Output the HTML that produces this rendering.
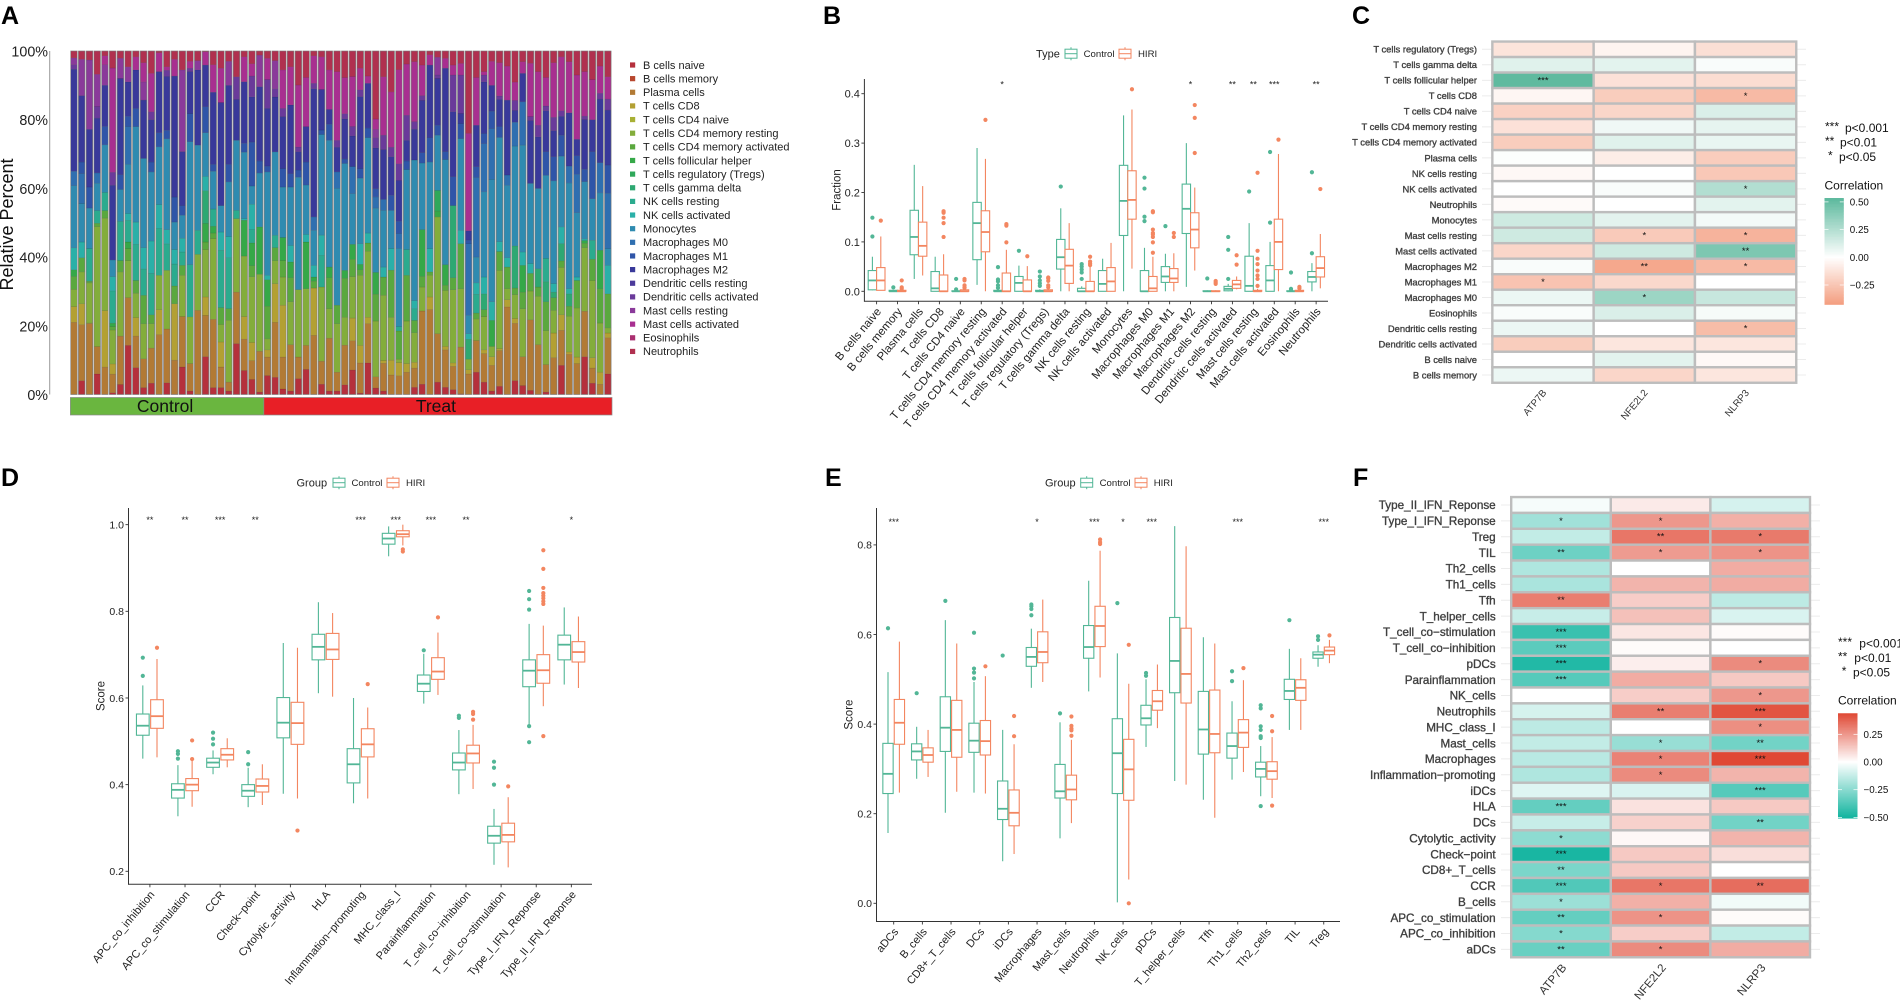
<!DOCTYPE html>
<html lang="en">
<head>
<meta charset="utf-8">
<title>Immune infiltration figure</title>
<style>
html,body{margin:0;padding:0;background:#fff;width:1900px;height:1001px;overflow:hidden}
svg{display:block;font-family:"Liberation Sans",sans-serif}
</style>
</head>
<body>
<svg id="figure" xmlns="http://www.w3.org/2000/svg" width="1900" height="1001" viewBox="0 0 1900 1001">
<text x="1" y="24" font-size="25" font-weight="bold">A</text>
<text x="823" y="24" font-size="25" font-weight="bold">B</text>
<text x="1352" y="24" font-size="25" font-weight="bold">C</text>
<text x="1" y="486" font-size="25" font-weight="bold">D</text>
<text x="825" y="486" font-size="25" font-weight="bold">E</text>
<text x="1353" y="486" font-size="25" font-weight="bold">F</text>
</svg>
<script>
/* ---------- Panel A data ---------- */
const aCategories = ["B cells naive","B cells memory","Plasma cells","T cells CD8","T cells CD4 naive","T cells CD4 memory resting","T cells CD4 memory activated","T cells follicular helper","T cells regulatory (Tregs)","T cells gamma delta","NK cells resting","NK cells activated","Monocytes","Macrophages M0","Macrophages M1","Macrophages M2","Dendritic cells resting","Dendritic cells activated","Mast cells resting","Mast cells activated","Eosinophils","Neutrophils"];
const aColors = ["#b5303c","#b8472f","#b27a35","#b3a033","#a8b034","#83ad3b","#5aa83e","#35a848","#2fa85a","#2ea872","#2bab8e","#2ab0a8","#2f8bb0","#2f6fb0","#2f55a8","#39399a","#4b3a9a","#6a3a9a","#8a3a9a","#a82f90","#aa2f70","#b0304f"];
const aGroups = ["Control","Treat"];
const aGroupSizes = [25,45];
const aTicks = ["0%","20%","40%","60%","80%","100%"];
const aFractions = [
[0,0,21,4.6,0,5,3.8,1.9,0,0,0,6.4,18.1,4.2,0,29.7,0,1.3,2,0,0,2],
[4,0,16.3,6.1,0,9.3,4.1,0,0,0,0,4.6,11.2,8.7,3.4,19.3,0,0,10.6,0,0,2.4],
[0,0,20.6,0.2,0,11.7,0.5,0,0,0,9.5,0,11.8,0,6.1,16.8,0,0,20.2,0,0,2.6],
[6,0,8,0,0,35,1,0,0,0,3.7,0,8,3,0,16,0,3.4,9.4,0,0,6.8],
[0,0,8,16.5,0,27,2.2,0,0,0,5.3,0,13.9,0,5.4,12,0,0,6,2.6,0,1.4],
[0.5,0,5.5,3,0,10,1,1,0,0,9.5,4.2,4.9,0,0,22,0,3.8,0,30.7,0,5],
[2.9,0,14.1,0,0,18.7,3.3,0,0,0,11.4,0,9.3,0,4.3,28,0,0,5.9,0,0,2.1],
[14.3,0,13.9,0,0,10.8,3.5,1.9,0,0,6.3,2,14.3,11,3,10,0,0,4.4,0,0,4.6],
[7.8,0,9.2,5.4,0,7.1,3.7,0,0,0,10.5,6.5,27.8,0,5.3,11.2,0,0,0,3.8,0,1.7],
[2,0,8.4,0,0,10.2,8.3,0,0,0,7.7,6.2,26,0,0,17,0,0,5.3,5.6,0,3.4],
[3.3,0,10.2,0,0,7.1,2.6,0,0,0,12,9.5,20.1,0,2.9,12.3,0,2.3,0,11.2,0,6.5],
[0,0,17.4,7.3,0,10,0,0,0,0,13.6,7,16.8,0,4.1,17.8,0,0,0,5.5,0,0.5],
[3.4,0,15.7,0,0,17.1,0,0,0,0,7.7,4.1,26.5,0,2.5,15.7,0,1.8,0,1,0,4.6],
[0,0,10,16.4,0,0,5.2,0,0,0,6.4,4.2,8,0,7.3,35.2,0,0,0,4.9,0,2.4],
[8,0,14.7,0,0,12,2.9,0,0,0,3.9,4,6.7,0,2.8,15.7,0,0,23.8,0,0,5.5],
[1,0,8,0,0,13.6,0,0,0,0,15.2,0,35.8,0,8.2,12.2,0,1,0,2,0,3],
[0,0,24.5,0,0,16.3,0,0,0,0,7,0,24.8,0,0,21.9,0,0,2.7,0,0,2.8],
[11,0,12,5.4,0,13.8,2.2,5.4,0,9.5,0,4.2,12.7,0,7.6,12.1,0,0,0,3.9,0,0.2],
[2,0,19.9,0,0,23.5,1.6,2,0,0,5,0,11,0,2,21,0,0,0,8,0,4],
[2,0,6,7.3,0,5.1,4.9,0,0,0,16.7,5.3,7.7,0,0,30,0,0,0,10,0,5],
[1,0,2.6,0,0,18,3.4,0,0,0,14.8,6.2,15.9,0,5.1,23,0,0,7,0,0,3],
[14.8,0,15,0,0,21.4,0,0,0,0,2.4,0,20.4,0,0,11.9,0,6.6,0,0,0,7.5],
[7,0,9.2,6.6,0,17.7,0,10.5,0,0,0,0.5,19.4,0,2.6,18,0,0,0,7.3,0,1.7],
[4.6,0,5.8,5.6,0,20.2,3.4,7,0,0,4.1,7.8,5.6,0,13.5,13.9,0,6.4,0,3.8,0,3.9],
[0.7,0,11.9,0,0,22.4,0,13.8,0,0,0,0,15.7,0,3.5,21.6,0,0,9.2,0,0,1.2],
[5.5,0,5.4,2.1,0,3.2,9.5,7.7,0,0,0,1.3,30.1,0,1.7,16.8,0,8.4,0,6.2,0,2.1],
[5,0,16,11.3,0,6.7,3.8,0,0,0,3.6,0,24.3,0,0,16,0,2.4,8.2,0,0,2.8],
[1.6,0,9.3,15.1,0,8.2,4.8,6.7,0,0,0,0,14.7,0,5.4,15.1,0,2.4,0,11.2,0,5.5],
[1,0,13.5,0,0,12.5,7,4.6,0,0,0,4.8,17,0,3.9,20,0,0,0,11.1,0,4.6],
[4.6,0,6.3,0,0,19.6,0,0,0,0,0,0,32.7,0,2.1,5.3,0,1.4,0,18,0,9.9],
[7.3,0,7,0,0,16.5,0,13.6,0,0,0,2.2,14.4,0,6.7,10.3,0,0,0,14.3,0,7.7],
[0,0,17.2,13.8,0,0,2,1.2,0,0,0,3.4,10.2,3.9,0,37.3,0,1.6,0,8,0,1.4],
[3,0,6.7,0,0,21.6,0,0,0,0,9.2,5.9,29.3,0,1.3,11.8,0,0,0,9.5,0,1.7],
[1,0,15.4,0,0,8.6,9,3.1,0,0,0,0,36.9,0,4.7,4.3,0,0,0,11.5,0,5.5],
[1,0,5.5,0,0,14.1,5.4,0,0,0,0,0,34,4.8,0,7.2,0,2,0,20,0,6],
[2.8,0,11.5,0,0,8.1,11.3,2.3,0,0,0,0,31,0,1.3,11.6,0,1.5,0,10.5,0,7.7],
[7.2,0,8.6,6.7,0,12.2,5.1,4.4,0,0,0,0,14.9,8,0,9,0,2.8,0,14.7,0,7.5],
[0.4,0,8.8,5.1,0,20.4,1.6,1.6,0,0,0,6,19.1,0,2.8,20.9,0,2,0,6.3,0,5],
[9.2,0,11.4,1.9,0,19.2,2.4,0,0,0,0,2.9,27.8,0,2.8,13,0,0,0,2.1,0,7.3],
[1.9,0,3.3,0,0,16.4,7.9,6.4,0,0,0,0,18.9,3.3,2.4,12,0,3,2.5,3,0,20],
[1,0,8.1,0.8,0,19,5.3,0,0,0,0,2.9,16.5,3.2,0,14.5,0,4.2,0,17,0,7.5],
[0,0,5.7,4.3,0,12.5,13.7,0,0,0,0,6.3,11.1,0,4.4,11.2,0,2.8,0,16.1,0,11.9],
[0,0,5.5,3.9,0,1,8.3,0,0,0,1.3,0,23,4.4,3.6,12,0,4.9,0,27.7,0,5.5],
[0,0,6.5,2.5,0,12.4,13.3,0,0,0,7.5,0,23.3,0,2.5,6,0,7.3,0,14.9,0,3.8],
[2.1,0,5.6,1.7,0,8.6,3.6,0,0,0,3.4,2.4,41,0,0,9,0,2.2,0,17.5,0,3.1],
[3,0,21.3,0,0,7,3.1,13.6,0,0,0,0,19.4,0,3,15.2,0,1.4,0,8.9,0,4.1],
[0,0,24.7,3.7,0,6.3,1,0,0,0,0,6.8,25.2,0,7.1,21.1,0,0,0,3,0,1.1],
[3.6,0,14.1,0,0,34,0,1.7,6,0,0,0,16.1,0,2.9,13.6,0,1,5.2,0,0,1.8],
[2.1,0,10.9,1,0,16.3,1.5,6,0,0,0,0,30.6,0,2.3,24.3,0,0,0,2.9,0,2.1],
[1.4,0,6.8,1,0,21.3,3.5,0,0,21,0,0,0,0,8.4,18.9,0,10.7,0,2.9,0,4.1],
[0.2,0,13.6,0,0,17,13.1,0,0,0,0,3.9,26.7,0,4.4,2.9,0,11.2,0,3.4,0,3.6],
[0,0,6,1.2,0,3.1,0,0,0,5.8,0,1.6,5.4,20.9,1,2.7,0,0,0,28.4,0,24],
[6.5,0,9.2,0,0,6.3,1.7,0,0,0,5.5,3.3,7.5,23.2,3.1,12.1,0,0,0,13.9,0,7.7],
[3.6,0,8.3,1.1,0,9.7,2,0,0,4.6,0,4.9,24.8,14,3,15,0,2,0,1,0,6],
[1,0,7.5,2.5,0,3,0,7.6,0,0,0,5.4,35.6,14.8,5.1,7.5,0,0,0,7,0,3],
[2.4,0,10.4,0.6,0,22.8,5.5,0,0,0,0,2.9,30.4,0,3.2,7.9,0,1,0,9.7,0,3.4],
[0,0,25.5,2.1,0,3.2,6.3,0,0,0,0,2.7,21.1,3,0,21.8,0,0,0,9.9,0,4.4],
[4,0,16.6,1.4,0,6.9,1.9,0,0,12.2,0,0,28.9,6.9,0,3.4,0,2.9,0,5.3,0,9],
[2.6,0,8.4,0,0,14,4.8,7.8,0,0,0,3.9,31.1,12.6,0,8.3,0,0,0,3.4,0,3.1],
[1.2,0,20.8,0,0,8.5,5.2,0,0,0,0,2.9,23.6,0,0,18.5,0,1.2,0,15.7,0,3.6],
[0,0,14.5,0,0,14.1,2.7,0,0,5.3,0,0,23.4,0,0,15,0,3.4,0,15.6,0,6],
[0.7,0,8,0,0,9.9,8.4,0,0,5.8,6.8,0,24.2,0,6.9,11.9,0,1.4,0,8.3,0,7.7],
[0,0,10.7,7.2,0,6.6,3.7,0,0,1.6,0,2.5,29.9,0,7,7.6,0,3.9,0,15.9,0,3.4],
[8.5,0,10.2,4.5,0,13.8,1.9,0,0,5,0,4.9,20.6,0,6.1,5.5,0,1.6,0,15.7,0,1.7],
[0,0,11.7,0.7,0,10.4,2.9,0,0,3.6,0,1.5,30.8,4.9,0,15.5,0,0,0,14.9,0,3.1],
[0,0,9,1.9,0,14.3,8,0,0,0,0,1,18.7,11.2,5.4,4.8,0,0,0,18.7,0,7],
[11,0,13.3,0,0,18.5,1.3,0.8,0,0,0,0.5,16.7,0,3.6,14.5,0,1,0,13,0,6],
[3.3,0,4.4,3,0,22.5,6.2,0,0,0,5.5,0,12.1,0,13.7,9.3,0,0,0,11.7,0,8.3],
[0,0,3,3.5,0,14.3,10,11.2,0,0,0,0,16.7,8.8,0,18.5,0,1.7,0,7.9,0,4.4],
[6,0,10.5,1.4,0,1.5,9.9,0,0,0,0,8.3,4.9,16.1,8.2,16,0,3.2,0,6.5,0,7.5]
];

/* ---------- Panel B data: each stat row = [lower whisker, Q1, median, Q3, upper whisker] ---------- */
const bCategories = aCategories;
const bTicks = [0,0.1,0.2,0.3,0.4];
const bControlStats = [[.002,.003,.022,.042,.07],[0,0,0,.002,.002],[.025,.074,.11,.164,.256],[0,0,.006,.04,.07],[0,0,0,.001,.002],[.013,.064,.138,.18,.29],[0,0,0,.002,.005],[0,0,.017,.03,.052],[0,0,0,.002,.004],[0,.045,.069,.105,.168],[0,0,0,.006,.01],[0,0,.015,.042,.066],[0,.113,.183,.255,.356],[0,0,0,.042,.088],[0,.018,.03,.05,.076],[.009,.117,.167,.217,.3],[0,0,0,.001,.002],[0,.001,.005,.01,.015],[0,0,.011,.071,.138],[0,0,.022,.052,.1],[0,0,0,.001,.002],[0,.019,.029,.04,.057]];
const bHiriStats = [[.002,.002,.022,.048,.111],[0,0,0,.002,.002],[.032,.071,.092,.14,.213],[0,0,0,.033,.075],[0,0,0,.003,.005],[0,.08,.12,.163,.268],[0,0,0,.037,.084],[0,0,0,.023,.051],[0,0,0,.003,.005],[0,.016,.052,.085,.138],[0,0,0,.02,.05],[0,0,.02,.048,.098],[.046,.146,.185,.244,.368],[0,0,.006,.03,.07],[0,.018,.026,.046,.077],[.042,.088,.125,.159,.21],[0,0,0,.001,.002],[.004,.006,.014,.022,.03],[0,0,0,.002,.005],[0,.044,.1,.146,.278],[0,0,0,.002,.004],[.006,.029,.047,.07,.116]];
const bControlOutliers = [[.111,.149],[.008],[],[],[.004,.025],[],[.007,.012,.02,.024,.049],[.082],[.011,.016,.022,.03,.04],[.212],[.025,.038,.044,.05,.055],[],[],[.142,.151,.208,.23],[.132],[],[.026],[.025,.084,.11],[.202],[.139,.282],[.003,.005,.038],[.077,.241]];
const bHiriOutliers = [[.143],[.022,.008,.005],[],[.11,.138,.149,.162,.159],[.025,.022,.012,.008,.007],[.347],[.099,.133,.136],[.071],[.008,.012,.021,.026,.028],[],[.053,.056,.06,.07],[],[.409],[.078,.099,.11,.115,.118,.125,.162,.16],[.11,.118],[.28,.351,.377],[.015,.018,.021],[.054,.073],[.011,.025,.032,.042,.055,.066,.082,.24],[.307],[.006,.009],[.207]];
const bStars = ["","","","","","","*","","","","","","","","","*","","**","**","***","","**"];

/* ---------- Panel D data ---------- */
const dCategories = ["APC_co_inhibition","APC_co_stimulation","CCR","Check\u2212point","Cytolytic_activity","HLA","Inflammation\u2212promoting","MHC_class_I","Parainflammation","T_cell_co\u2212inhibition","T_cell_co\u2212stimulation","Type_I_IFN_Reponse","Type_II_IFN_Reponse"];
const dTicks = [0.2,0.4,0.6,0.8,1.0];
const dControlStats = [[.46,.514,.536,.563,.629],[.327,.369,.388,.402,.445],[.424,.44,.451,.461,.479],[.348,.373,.386,.4,.439],[.379,.508,.543,.601,.727],[.611,.688,.718,.747,.821],[.357,.404,.447,.483,.6],[.927,.955,.968,.98,.996],[.587,.615,.633,.653,.702],[.378,.434,.451,.473,.526],[.215,.265,.282,.304,.344],[.54,.626,.663,.688,.771],[.631,.688,.723,.745,.809]];
const dHiriStats = [[.463,.53,.558,.596,.69],[.349,.386,.4,.414,.455],[.44,.457,.469,.483,.507],[.353,.383,.397,.413,.447],[.368,.493,.542,.59,.716],[.603,.689,.712,.749,.796],[.368,.464,.493,.529,.578],[.952,.972,.978,.986,1.0],[.607,.643,.661,.693,.751],[.39,.45,.472,.491,.538],[.209,.268,.284,.311,.371],[.581,.634,.664,.7,.767],[.623,.683,.706,.73,.788]];
const dControlOutliers = [[.651,.693],[.46,.471,.477],[.493,.506,.52],[.447,.475],[],[],[],[],[.71],[.559,.554],[.4,.439,.453],[.498,.535,.804,.828,.847],[]];
const dHiriOutliers = [[.716],[.459,.502],[],[],[.294],[],[.632],[.943,.938],[.786],[.55,.568,.563],[.396],[.512,.817,.823,.83,.836,.842,.854,.898,.941],[]];
const dStars = ["**","**","***","**","","","***","***","***","**","","","*"];

/* ---------- Panel E data ---------- */
const eCategories = ["aDCs","B_cells","CD8+_T_cells","DCs","iDCs","Macrophages","Mast_cells","Neutrophils","NK_cells","pDCs","T_helper_cells","Tfh","Th1_cells","Th2_cells","TIL","Treg"];
const eTicks = [0,0.2,0.4,0.6,0.8];
const eControlStats = [[.157,.245,.289,.357,.516],[.278,.32,.339,.356,.394],[.202,.339,.392,.461,.632],[.247,.337,.363,.402,.494],[.094,.187,.211,.273,.387],[.481,.529,.55,.571,.613],[.145,.235,.25,.31,.404],[.473,.547,.572,.62,.72],[.002,.245,.335,.412,.558],[.349,.398,.413,.442,.5],[.273,.47,.541,.638,.842],[.231,.333,.388,.473,.594],[.276,.324,.351,.38,.451],[.239,.282,.3,.315,.351],[.387,.455,.474,.5,.568],[.528,.547,.555,.561,.576]];
const eHiriStats = [[.247,.355,.403,.455,.584],[.282,.315,.331,.347,.387],[.249,.326,.387,.453,.58],[.245,.331,.362,.408,.507],[.11,.173,.202,.253,.355],[.494,.537,.561,.606,.678],[.179,.231,.254,.286,.365],[.504,.573,.619,.663,.787],[.053,.23,.299,.366,.49],[.391,.431,.451,.475,.533],[.265,.447,.512,.614,.797],[.191,.336,.378,.476,.58],[.293,.348,.381,.41,.498],[.235,.277,.295,.316,.371],[.387,.453,.481,.499,.547],[.536,.555,.564,.572,.588]];
const eControlOutliers = [[.614],[.469],[.675],[.502,.515,.524,.604],[.553],[.643,.657,.663,.667],[.424],[],[.67],[.508,.514],[],[],[.496,.518],[.217,.369,.373,.387,.395,.435,.442],[.632],[.588,.596]];
const eHiriOutliers = [[],[],[],[.529],[.373,.418],[],[.374,.386,.39,.396,.417],[.802,.806,.812],[.577,0],[],[],[],[.525],[.218,.384,.418],[],[.598]];
const eStars = ["***","","","","","*","","***","*","***","","","***","","","***"];

/* ---------- Panel C data ---------- */
const cRows = ["T cells regulatory (Tregs)","T cells gamma delta","T cells follicular helper","T cells CD8","T cells CD4 naive","T cells CD4 memory resting","T cells CD4 memory activated","Plasma cells","NK cells resting","NK cells activated","Neutrophils","Monocytes","Mast cells resting","Mast cells activated","Macrophages M2","Macrophages M1","Macrophages M0","Eosinophils","Dendritic cells resting","Dendritic cells activated","B cells naive","B cells memory"];
const cGenes = ["ATP7B","NFE2L2","NLRP3"];
const cValues = [[-.12,-.05,-.14],[.1,.09,.02],[.52,-.13,-.15],[-.04,-.22,-.3],[-.2,-.18,.12],[-.13,.05,.08],[-.22,.1,.07],[.01,-.08,-.22],[-.03,0,-.24],[0,.02,.25],[-.02,0,.09],[.16,.09,.04],[.16,-.23,-.33],[-.18,.16,.42],[.02,-.38,-.3],[-.26,-.17,0],[.06,.32,.18],[.02,.12,.03],[.06,0,-.29],[-.22,-.11,-.11],[0,.09,-.03],[.06,-.18,-.11]];
const cStars = [["","",""],["","",""],["***","",""],["","","*"],["","",""],["","",""],["","",""],["","",""],["","",""],["","","*"],["","",""],["","",""],["","*","*"],["","","**"],["","**","*"],["*","",""],["","*",""],["","",""],["","","*"],["","",""],["","",""],["","",""]];
const cLegendTicks = [0.5,0.25,0,-0.25];

/* ---------- Panel F data ---------- */
const fRows = ["Type_II_IFN_Reponse","Type_I_IFN_Reponse","Treg","TIL","Th2_cells","Th1_cells","Tfh","T_helper_cells","T_cell_co\u2212stimulation","T_cell_co\u2212inhibition","pDCs","Parainflammation","NK_cells","Neutrophils","MHC_class_I","Mast_cells","Macrophages","Inflammation\u2212promoting","iDCs","HLA","DCs","Cytolytic_activity","Check\u2212point","CD8+_T_cells","CCR","B_cells","APC_co_stimulation","APC_co_inhibition","aDCs"];
const fGenes = ["ATP7B","NFE2L2","NLRP3"];
const fValues = [[-.02,.05,-.09],[-.2,.25,.19],[-.13,.33,.32],[-.31,.24,.26],[-.17,0,.2],[-.18,.18,.2],[.31,.12,-.14],[-.12,.15,-.08],[-.42,.06,.01],[-.35,.01,0],[-.47,.04,.28],[-.36,.2,.13],[0,.12,.25],[-.09,.31,.41],[-.14,0,.27],[-.13,-.22,-.3],[-.15,.3,.44],[-.17,.28,.18],[-.07,-.08,-.36],[-.33,.07,.13],[-.12,.11,-.3],[-.24,.02,.18],[-.49,.13,.08],[-.28,.13,0],[-.37,.33,.35],[-.21,.19,-.03],[-.33,.26,.01],[-.26,.12,-.13],[-.32,.28,.2]];
const fStars = [["","",""],["*","*",""],["","**","*"],["**","*","*"],["","",""],["","",""],["**","",""],["","",""],["***","",""],["***","",""],["***","","*"],["***","",""],["","","*"],["","**","***"],["","","*"],["","*","**"],["","*","***"],["","*",""],["","","***"],["***","",""],["","","**"],["*","",""],["***","",""],["**","",""],["***","*","**"],["*","",""],["**","*",""],["*","",""],["**","*",""]];
const fLegendTicks = [0.25,0,-0.25,-0.5];
const sigLegendStars = ["***","**","*"];
const sigLegendText = ["p<0.001","p<0.01","p<0.05"];

/* ---------- helpers ---------- */
const SVGNS = "http://www.w3.org/2000/svg";
const root = document.getElementById("figure");
function mk(tag, attrs, parent, text){
  const el = document.createElementNS(SVGNS, tag);
  for (const k in attrs) el.setAttribute(k, attrs[k]);
  if (text !== undefined) el.textContent = text;
  (parent || root).appendChild(el);
  return el;
}
function panel(name){
  const g = mk("g", {}, root);
  
  
  return g;
}
const TEAL = "#52b696", ORANGE = "#f38660", AXIS = "#333333";

/* ---------- Panel A ---------- */
(function(){
  const g = panel("stacked-bar-panel");
  const x0 = 70.4, x1 = 612, yBottom = 394.5, yTop = 51;
  const xBar = i => x0 + i * (x1 - x0) / aFractions.length;
  const barPitch = (x1 - x0) / aFractions.length;
  const yPct = p => yBottom - p / 100 * (yBottom - yTop);
  const axis = mk("line", {x1:49.7,x2:49.7,y1:yTop,y2:yBottom,stroke:"#999","stroke-width":1}, g);
  
  
  const title = mk("text", {x:0,y:0,transform:"translate(13,224.5) rotate(-90)","text-anchor":"middle","font-size":18,fill:"#111"}, g, "Relative Percent");
  
  
  aTicks.forEach((t,i)=>{
    const lab = mk("text", {x:48,y:yPct(i*20)+5.5,"text-anchor":"end","font-size":14.3,fill:"#222"}, g, t);
    
    
  });
  aFractions.forEach((row,i)=>{
    const total = row.reduce((a,b)=>a+b,0);
    let cum = 0;
    const bw = barPitch - 1.2, bx = xBar(i) + .3;
    const bar = mk("g", {}, g);
    
    
    row.forEach((v,j)=>{
      if (v <= 0) return;
      const p = v / total * 100;
      const yA = yPct(cum + p), yB = yPct(cum);
      const seg = mk("rect", {x:bx,y:yA,width:bw,height:yB-yA,fill:aColors[j],stroke:"rgba(0,0,0,.22)","stroke-width":.4}, bar);
      
      
      cum += p;
    });
    const outline = mk("rect", {x:bx,y:yTop,width:bw,height:yBottom-yTop,fill:"none",stroke:"#7f7f7f","stroke-width":.6}, bar);
    
    
  });
  const groupColors = ["#6ab63f","#e81f26"];
  let start = 0;
  aGroups.forEach((name,i)=>{
    const a = xBar(start), b = xBar(start + aGroupSizes[i]);
    const r = mk("rect", {x:a,y:397.5,width:b-a,height:17.5,fill:groupColors[i],stroke:"#8a8a8a","stroke-width":.7}, g);
    
    
    const t = mk("text", {x:(a+b)/2-2,y:412,"text-anchor":"middle","font-size":17.5,fill:"#111"}, g, name);
    
    
    start += aGroupSizes[i];
  });
  aCategories.forEach((c,i)=>{
    const y = 65 + i * 13.64;
    const sw = mk("rect", {x:630,y:y-2.6,width:5.2,height:5.2,fill:aColors[i]}, g);
    
    
    const t = mk("text", {x:643,y:y+3.8,"font-size":11,fill:"#222"}, g, c);
    
    
  });
})();

/* ---------- Box plots ---------- */
function drawBoxes(cfg){
  const g = panel(cfg.name);
  const y = v => cfg.y0 - (v - cfg.v0) * cfg.pxPerUnit;
  const x = i => cfg.firstX + i * cfg.pitch;
  const yAx = mk("line", {x1:cfg.left,x2:cfg.left,y1:cfg.top,y2:cfg.bottom+.5,stroke:AXIS,"stroke-width":1}, g);
  
  
  const xAx = mk("line", {x1:cfg.left,x2:cfg.right,y1:cfg.bottom,y2:cfg.bottom,stroke:AXIS,"stroke-width":1}, g);
  
  
  cfg.ticks.forEach(v=>{
    const tick = mk("line", {x1:cfg.left-3,x2:cfg.left,y1:y(v),y2:y(v),stroke:AXIS,"stroke-width":.9}, g);
    
    
    const lab = mk("text", {x:cfg.left-4.5,y:y(v)+cfg.tickFont*.36,"text-anchor":"end","font-size":cfg.tickFont,fill:"#222"}, g, v.toFixed(1));
    
    
  });
  const yt = mk("text", {x:0,y:0,transform:"translate("+cfg.titleX+","+cfg.titleY+") rotate(-90)","text-anchor":"middle","font-size":11.5,fill:"#222"}, g, cfg.yTitle);
  
  
  cfg.categories.forEach((c,i)=>{
    const cx = x(i);
    const tick = mk("line", {x1:cx,x2:cx,y1:cfg.bottom,y2:cfg.bottom+3,stroke:AXIS,"stroke-width":.9}, g);
    
    
    const ax = cx + 5.2, ay = cfg.bottom + 10.5;
    const lab = mk("text", {x:ax,y:ay,transform:"rotate(-50 "+ax+" "+ay+")","text-anchor":"end","font-size":cfg.catFont,fill:"#222"}, g, c);
    
    
    if (cfg.stars[i]) {
      const st = mk("text", {x:cx,y:cfg.starY+4,"text-anchor":"middle","font-size":9,fill:"#222"}, g, cfg.stars[i]);
      
      
    }
    [[cfg.control,cfg.controlOut,TEAL,-cfg.off],[cfg.hiri,cfg.hiriOut,ORANGE,cfg.off]].forEach(sr=>{
      const s = sr[0][i], out = sr[1][i], col = sr[2], bx = cx + sr[3], w = cfg.boxW;
      const box = mk("g", {}, g);
      
      
      const wh = mk("line", {x1:bx,x2:bx,y1:y(s[0]),y2:y(s[4]),stroke:col,"stroke-width":1.1}, box);
      
      
      const r = mk("rect", {x:bx-w/2,y:y(s[3]),width:w,height:Math.max(.5,y(s[1])-y(s[3])),fill:"#fff",stroke:col,"stroke-width":1.1}, box);
      
      
      const m = mk("line", {x1:bx-w/2,x2:bx+w/2,y1:y(s[2]),y2:y(s[2]),stroke:col,"stroke-width":1.8}, box);
      
      
      out.forEach(v=>{
        const d = mk("circle", {cx:bx,cy:y(v),r:cfg.dotR,fill:col}, box);
        
        
      });
    });
  });
  const ly = cfg.legendY;
  const lt = mk("text", {x:cfg.legTitleX,y:ly+4,"font-size":cfg.legTitleFont,fill:"#222"}, g, cfg.legTitle);
  
  
  [["Control",TEAL,cfg.key1X,cfg.txt1X],["HIRI",ORANGE,cfg.key2X,cfg.txt2X]].forEach(e=>{
    const k = mk("g", {}, g);
    
    
    const w = mk("line", {x1:e[2]+6,x2:e[2]+6,y1:ly-6.5,y2:ly+6.5,stroke:e[1],"stroke-width":1}, k);
    
    
    const r = mk("rect", {x:e[2],y:ly-4.5,width:12,height:9,fill:"#fff",stroke:e[1],"stroke-width":1}, k);
    
    
    const l = mk("line", {x1:e[2],x2:e[2]+12,y1:ly,y2:ly,stroke:e[1],"stroke-width":1}, k);
    
    
    const t = mk("text", {x:e[3],y:ly+3.4,"font-size":9.6,fill:"#222"}, g, e[0]);
    
    
  });
}
drawBoxes({name:"fraction-boxplot-panel",categories:bCategories,ticks:bTicks,control:bControlStats,hiri:bHiriStats,controlOut:bControlOutliers,hiriOut:bHiriOutliers,stars:bStars,
  y0:291.3,v0:0,pxPerUnit:494,firstX:876.6,pitch:20.93,left:864.4,right:1328,top:79,bottom:301.3,off:4.2,boxW:8.4,dotR:2.1,tickFont:11,catFont:11.5,starY:83.7,
  yTitle:"Fraction",titleX:840.5,titleY:190,legTitle:"Type",legTitleFont:11,legTitleX:1036,legendY:53.7,key1X:1065,txt1X:1083.6,key2X:1119,txt2X:1138});
drawBoxes({name:"immune-function-boxplot-panel",categories:dCategories,ticks:dTicks,control:dControlStats,hiri:dHiriStats,controlOut:dControlOutliers,hiriOut:dHiriOutliers,stars:dStars,
  y0:871.3,v0:.2,pxPerUnit:433.3,firstX:149.9,pitch:35.12,left:128.5,right:592,top:508,bottom:884.3,off:7.1,boxW:12.7,dotR:2.1,tickFont:10.5,catFont:11,starY:519,
  yTitle:"Score",titleX:104.5,titleY:696,legTitle:"Group",legTitleFont:11,legTitleX:296.5,legendY:482.7,key1X:333,txt1X:351.5,key2X:387,txt2X:406});
drawBoxes({name:"immune-cell-boxplot-panel",categories:eCategories,ticks:eTicks,control:eControlStats,hiri:eHiriStats,controlOut:eControlOutliers,hiriOut:eHiriOutliers,stars:eStars,
  y0:903.3,v0:0,pxPerUnit:448,firstX:893.7,pitch:28.67,left:876.5,right:1340,top:508,bottom:921.5,off:5.7,boxW:10.3,dotR:2.1,tickFont:10.5,catFont:11,starY:521,
  yTitle:"Score",titleX:852.5,titleY:714.6,legTitle:"Group",legTitleFont:11,legTitleX:1045,legendY:482.7,key1X:1080.7,txt1X:1099.6,key2X:1135,txt2X:1153.7});

/* ---------- Heatmaps ---------- */
function mix(rgb, t){
  t = Math.max(0, Math.min(1, t));
  return "rgb(" + rgb.map(c=>Math.round(255 + (c - 255) * t)).join(",") + ")";
}
function drawHeat(cfg){
  const g = panel(cfg.name);
  const color = v => v >= 0 ? mix(cfg.posRGB, v / cfg.posMax) : mix(cfg.negRGB, -v / cfg.negMax);
  const colX = j => cfg.firstCol + j * cfg.colPitch;
  const rowY = i => cfg.firstRow + i * cfg.rowPitch;
  cfg.rows.forEach((label,i)=>{
    const y = rowY(i);
    const grid = mk("line", {x1:cfg.gridA,x2:cfg.gridB,y1:y,y2:y,stroke:"#ececec","stroke-width":1}, g);
    
    
    const lab = mk("text", {x:cfg.labelRight,y:y+cfg.labelFont*.36,"text-anchor":"end","font-size":cfg.labelFont,fill:"#3d3d3d",stroke:"#444","stroke-width":.35}, g, label);
    
    
  });
  cfg.rows.forEach((label,i)=>{
    cfg.genes.forEach((gene,j)=>{
      const cell = mk("rect", {x:colX(j)-cfg.colPitch/2,y:rowY(i)-cfg.rowPitch/2,width:cfg.colPitch,height:cfg.rowPitch,fill:color(cfg.values[i][j]),stroke:"#bdbdbd","stroke-width":2.4}, g);
      
      
    });
  });
  cfg.rows.forEach((label,i)=>{
    cfg.genes.forEach((gene,j)=>{
      if (!cfg.stars[i][j]) return;
      const st = mk("text", {x:colX(j),y:rowY(i)+3,"text-anchor":"middle","font-size":9.5,fill:"#111"}, g, cfg.stars[i][j]);
      
      
    });
  });
  cfg.genes.forEach((gene,j)=>{
    const ax = colX(j) + cfg.geneDx, ay = cfg.geneY;
    const t = mk("text", {x:ax,y:ay,transform:"rotate(-50 "+ax+" "+ay+")","text-anchor":"end","font-size":cfg.geneFont,fill:"#333"}, g, gene);
    
    
  });
  cfg.sigRows.forEach((sy,i)=>{
    const st = mk("text", {x:cfg.sigStarX[i],y:sy+3,"font-size":12,fill:"#111"}, g, sigLegendStars[i]);
    
    
    const pt = mk("text", {x:cfg.sigTextX[i],y:sy+4.5,"font-size":12,fill:"#111"}, g, sigLegendText[i]);
    
    
  });
  const ct = mk("text", {x:cfg.barX,y:cfg.corrY+4,"font-size":12,fill:"#111"}, g, "Correlation");
  
  
  const legendY = v => cfg.zeroY - v * cfg.barPx;
  const strip = 1.5;
  for (let py = legendY(cfg.posMax); py < legendY(-cfg.negMax); py += strip) {
    const v = (cfg.zeroY - py - strip / 2) / cfg.barPx;
    const s = mk("rect", {x:cfg.barX,y:py,width:cfg.barW,height:strip+.3,fill:color(v)}, g);
    
    
  }
  cfg.legendTicks.forEach(v=>{
    const y = legendY(v);
    const t1 = mk("line", {x1:cfg.barX,x2:cfg.barX+4,y1:y,y2:y,stroke:"#fff","stroke-width":.7}, g);
    
    
    const t2 = mk("line", {x1:cfg.barX+cfg.barW-4,x2:cfg.barX+cfg.barW,y1:y,y2:y,stroke:"#fff","stroke-width":.7}, g);
    
    
    const txt = (v < 0 ? "\u2212" : "") + Math.abs(v).toFixed(2);
    const lab = mk("text", {x:cfg.barX+cfg.barW+6,y:y+3.5,"font-size":9.8,fill:"#111"}, g, txt);
    
    
  });
}
drawHeat({name:"cell-correlation-heatmap",rows:cRows,genes:cGenes,values:cValues,stars:cStars,
  posRGB:[90,184,156],posMax:.535,negRGB:[244,160,130],negMax:.415,
  firstCol:1543,colPitch:101.3,firstRow:49.3,rowPitch:15.51,gridA:1482,gridB:1806,labelRight:1477,labelFont:9.4,
  geneDx:4,geneY:393,geneFont:9.8,
  sigRows:[127.7,142,156.5],sigStarX:[1825,1825,1828],sigTextX:[1845,1840,1839],
  corrY:185.7,barX:1824.5,barW:19.3,zeroY:257.3,barPx:110.8,legendTicks:cLegendTicks});
drawHeat({name:"function-correlation-heatmap",rows:fRows,genes:fGenes,values:fValues,stars:fStars,
  posRGB:[224,72,52],posMax:.44,negRGB:[20,181,160],negMax:.5,
  firstCol:1561,colPitch:99.6,firstRow:505,rowPitch:15.87,gridA:1501,gridB:1820,labelRight:1495.7,labelFont:11.7,
  geneDx:6,geneY:968,geneFont:11.5,
  sigRows:[643,657.7,672],sigStarX:[1838,1838,1841.8],sigTextX:[1859.3,1854.3,1853],
  corrY:700.7,barX:1838,barW:19.5,zeroY:762,barPx:110.8,legendTicks:fLegendTicks});
</script>
</body>
</html>
